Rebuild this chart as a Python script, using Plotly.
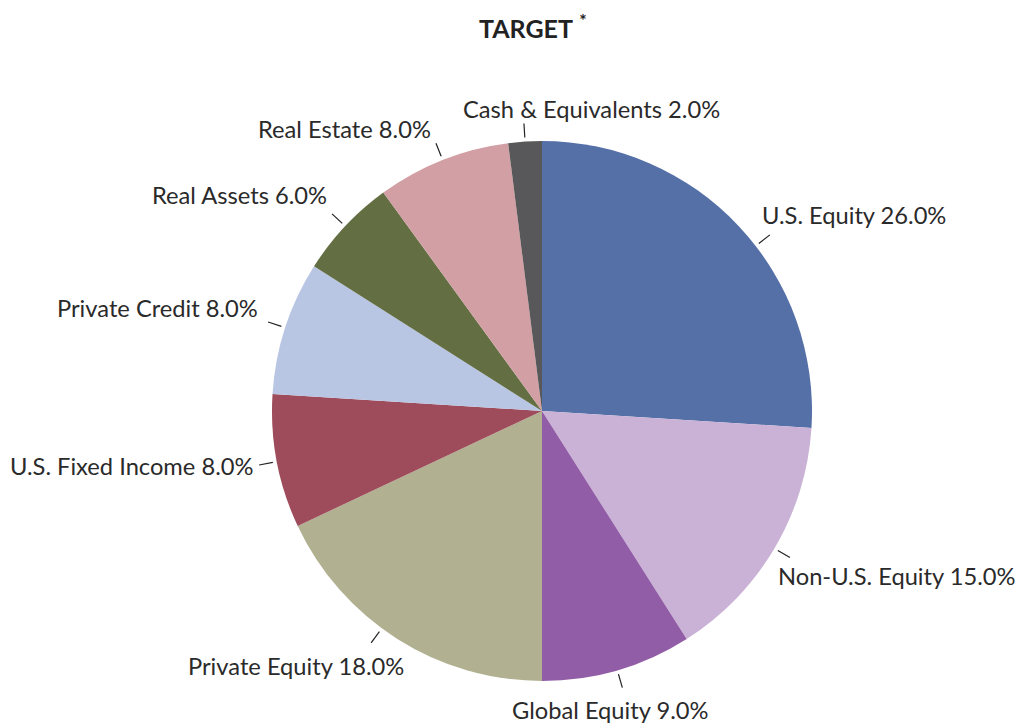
import math
import plotly.graph_objects as go

categories = ["U.S. Equity", "Non-U.S. Equity", "Global Equity", "Private Equity",
              "U.S. Fixed Income", "Private Credit", "Real Assets", "Real Estate",
              "Cash & Equivalents"]
values = [26.0, 15.0, 9.0, 18.0, 8.0, 8.0, 6.0, 8.0, 2.0]
colors = ["#556FA7", "#CAB2D6", "#925DA7", "#B1B191", "#9E4C5B",
          "#B8C6E4", "#646E43", "#D29FA4", "#58585A"]

W, H = 1018, 725
CX, CY, R = 542, 411, 270  # pixel center and radius of the pie

fig = go.Figure(go.Pie(
    labels=categories, values=values, sort=False, direction="clockwise",
    rotation=0, marker=dict(colors=colors, line=dict(width=0)),
    textinfo="none", hoverinfo="label+percent", showlegend=False,
    domain=dict(x=[(CX - R) / W, (CX + R) / W],
                y=[(H - CY - R) / H, (H - CY + R) / H]),
))

total = sum(values)
shapes, annotations = [], []
cum = 0.0
# layout fine-tuning of label placement (px shift, leader-line rotation in degrees)
label_nudge = {
    "Cash & Equivalents": (68, -5),
    "Real Estate": (-2, -5),
    "Private Credit": (-4, -3),
    "Private Equity": (20, 8),
    "Global Equity": (-13, -3),
    "Non-U.S. Equity": (-17, 0),
    "U.S. Equity": (5, -20),
}
line_rot = {"U.S. Equity": 5.5, "Private Equity": 4.0}
for cat, v in zip(categories, values):
    mid = (cum + v / 2) / total * 2 * math.pi
    cum += v
    s, c = math.sin(mid), math.cos(mid)
    lm = mid + math.radians(line_rot.get(cat, 0))
    ls, lc = math.sin(lm), math.cos(lm)
    x0, y0 = CX + (R + 4) * ls, CY - (R + 4) * lc
    x1, y1 = CX + (R + 18) * ls, CY - (R + 18) * lc
    shapes.append(dict(type="line", xref="paper", yref="paper",
                       x0=x0 / W, y0=1 - y0 / H, x1=x1 / W, y1=1 - y1 / H,
                       line=dict(color="#222222", width=1.2)))
    lx, ly = CX + (R + 22) * s, CY - (R + 22) * c
    xa = "left" if s > 0.3 else ("right" if s < -0.3 else "center")
    ya = "bottom" if c > 0.3 else ("top" if c < -0.3 else "middle")
    dx, dy = label_nudge.get(cat, (0, 0))
    annotations.append(dict(
        x=lx / W, y=1 - ly / H, xref="paper", yref="paper",
        text=f"{cat} {v:.1f}%", showarrow=False, xanchor=xa, yanchor=ya,
        xshift=dx, yshift=dy,
        font=dict(family="Lato", size=23.7, color="#2a2a2a"),
    ))

annotations.append(dict(
    x=533 / W, y=1 - 27 / H, xref="paper", yref="paper",
    text="<b>TARGET</b> <sup><b>*</b></sup>", showarrow=False,
    xanchor="center", yanchor="middle",
    font=dict(family="Lato", size=25, color="#222222"),
))

fig.update_layout(
    width=W, height=H, margin=dict(l=0, r=0, t=0, b=0),
    paper_bgcolor="white", plot_bgcolor="white",
    shapes=shapes, annotations=annotations,
)

fig.write_html("out.html", config={"displayModeBar": False},
               post_script="document.body.style.margin='0';")
